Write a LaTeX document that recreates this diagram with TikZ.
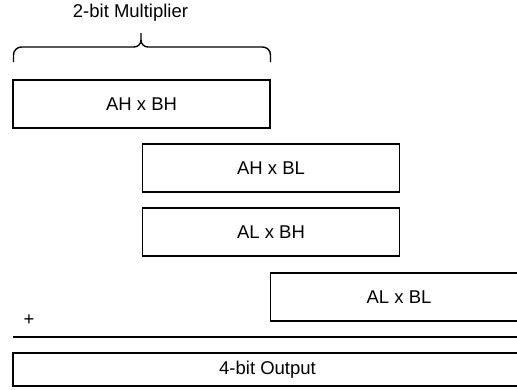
\documentclass[tikz,border=0pt]{standalone}
\usepackage{fontspec}
\setmainfont{Liberation Sans}
\begin{document}
\begin{tikzpicture}[x=1pt,y=-1pt,
  txt/.style={font=\fontsize{18.5}{22}\selectfont},
  partbox/.style={txt,draw=black,line width=1.5pt,fill=white,minimum width=257pt,minimum height=48pt,inner sep=0pt},
  outbox/.style={txt,draw=black,line width=1.5pt,minimum width=509pt,minimum height=33pt,inner sep=0pt},
  lbl/.style={txt,inner sep=0pt},
  brace/.style={line width=1.4pt}]
\useasboundingbox (0,0) rectangle (517,389);
\node[lbl] (title) at (130.5,13) {2-bit Multiplier};
\draw[brace] (13.5,62) -- (13.5,55) arc[start angle=180,end angle=270,radius=8] -- (134,47) arc[start angle=90,end angle=0,radius=7] -- (141,33);
\draw[brace] (270.5,62) -- (270.5,55) arc[start angle=0,end angle=-90,radius=8] -- (148,47) arc[start angle=90,end angle=180,radius=7];
\node[partbox] (ahbh) at (141.5,104) {AH x BH};
\node[partbox] (ahbl) at (271,168) {AH x BL};
\node[partbox] (albh) at (271,232) {AL x BH};
\node[partbox] (albl) at (399,297) {AL x BL};
\node[lbl] (plus) at (29,320) {+};
\coordinate (ruleL) at (13,337);
\coordinate (ruleR) at (530,337);
\draw[line width=1.4pt] (ruleL) -- (ruleR);
\node[outbox] (out) at (267.5,369.5) {4-bit Output};
\end{tikzpicture}
\end{document}
